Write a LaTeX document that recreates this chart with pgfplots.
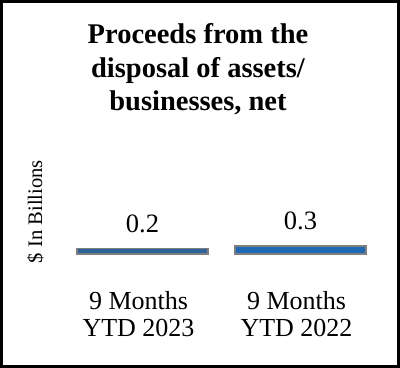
\documentclass[border=0pt]{standalone}
\usepackage{pgfplots}
\pgfplotsset{compat=1.18}
\usepackage{fontspec}
\setmainfont{Liberation Serif}
\definecolor{barA}{HTML}{2E6399}
\definecolor{barB}{HTML}{1F69B4}
\definecolor{edge}{HTML}{7F7F7F}
\begin{document}
\begin{tikzpicture}
\draw[line width=3bp] (1.5bp,-1.5bp) rectangle (398.5bp,-366.5bp);
\node[align=center, anchor=north, inner sep=0pt, font=\fontsize{28.5bp}{33.5bp}\selectfont\bfseries] at (198bp,-23.3bp) {Proceeds from the\\disposal of assets/\\businesses, net};
\node[rotate=90, anchor=base, inner sep=0pt, font=\fontsize{20.6bp}{24bp}\selectfont] at (42bp,-211.5bp) {\$ In Billions};
\begin{axis}[
  anchor=origin, at={(142.5bp,-254bp)},
  x=158bp, y=27bp,
  xmin=-0.5, xmax=1.5, ymin=0, ymax=1,
  axis line style={draw=none},
  ytick=\empty,
  xtick={0,1},
  xticklabels={{9 Months\\YTD 2023},{9 Months\\YTD 2022}},
  major tick length=0pt,
  xticklabel style={align=center, font=\fontsize{26bp}{27.5bp}\selectfont, anchor=north, inner sep=0pt, yshift=-37bp, xshift=-4bp},
  ybar, bar width=131bp, bar shift=0pt,
  nodes near coords,
  every node near coord/.append style={font=\fontsize{26.5bp}{30bp}\selectfont, inner sep=0pt, yshift=15bp, anchor=south},
  /pgf/number format/.cd, fixed, fixed zerofill, precision=1, assume math mode=true, /pgfplots/.cd,
  clip=false,
]
\addplot[fill=barA, draw=edge, line width=1.5bp] coordinates {(0,0.2)};
\addplot[fill=barB, draw=edge, line width=1.5bp] coordinates {(1,0.3)};
\end{axis}
\end{tikzpicture}
\end{document}
